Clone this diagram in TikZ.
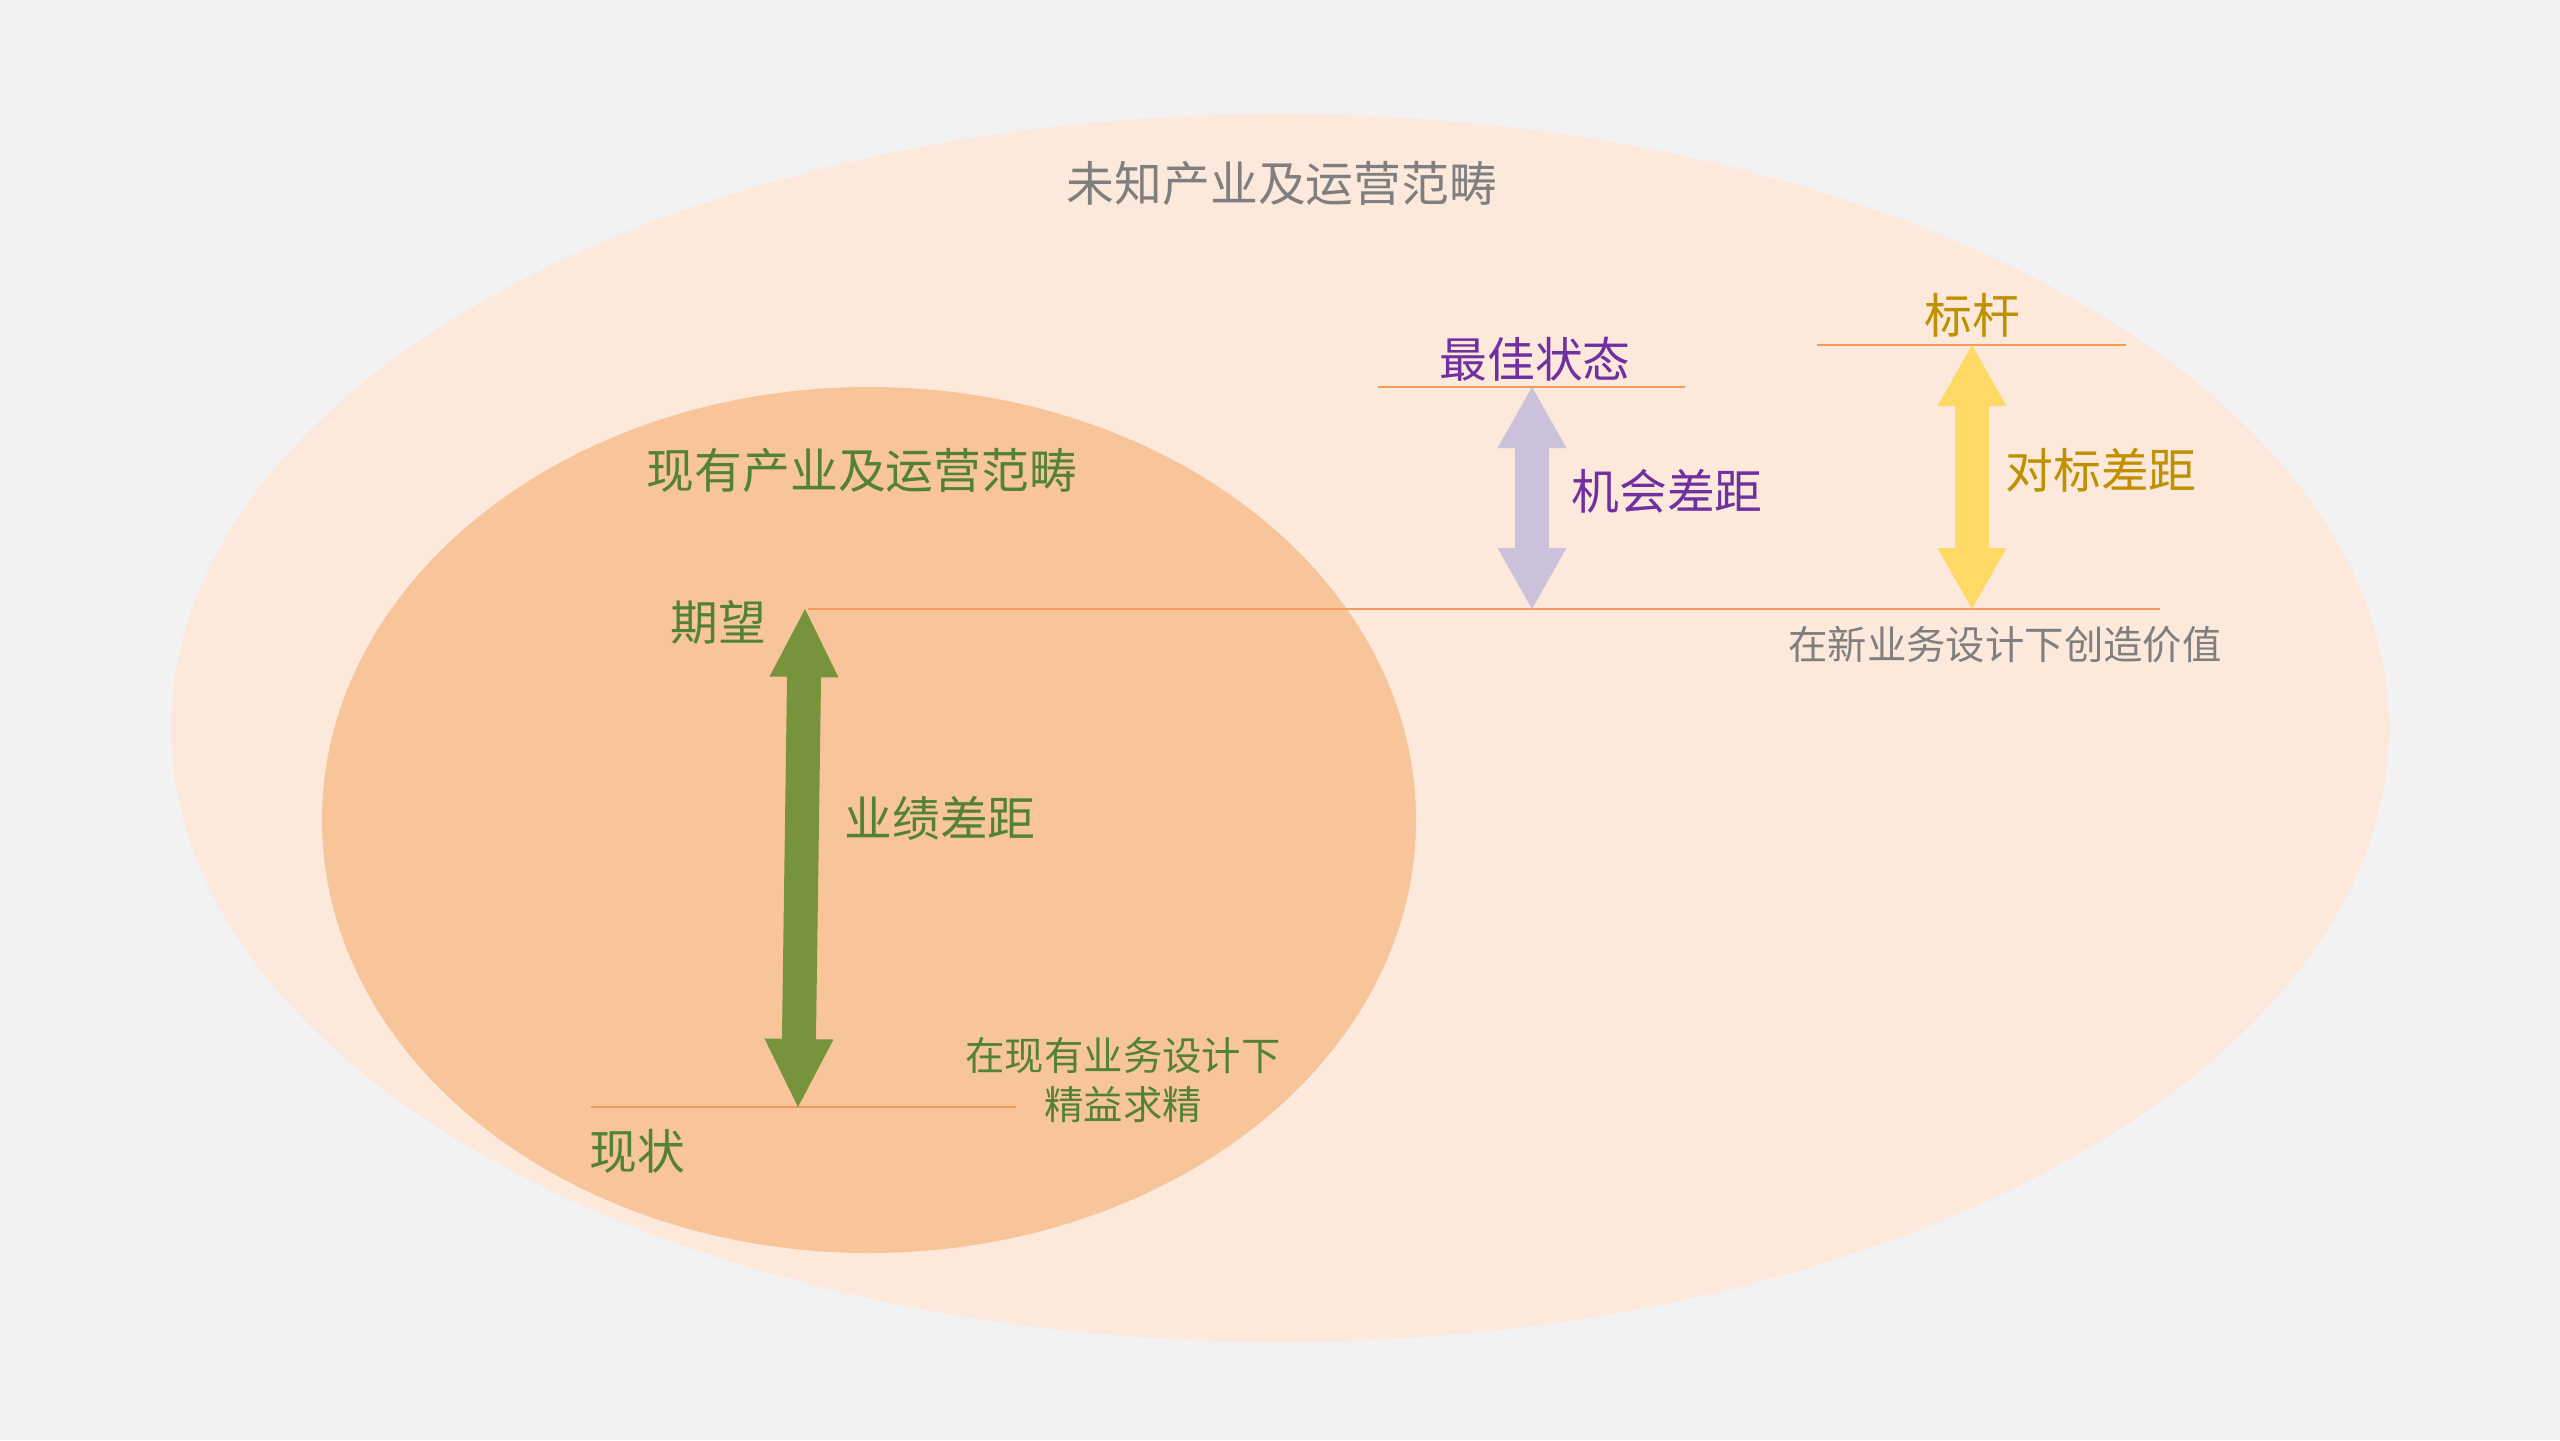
\documentclass[tikz,border=0pt]{standalone}
\usepackage{fontspec}
\setmainfont{Noto Sans CJK SC}
\usetikzlibrary{arrows.meta,positioning}

\definecolor{bggray}{HTML}{F2F2F2}
\definecolor{outerfill}{HTML}{FCE9DB}
\definecolor{innerfill}{HTML}{F8C59B}
\definecolor{lineorange}{HTML}{F19A5A}
\definecolor{textgray}{HTML}{7F7F7F}
\definecolor{textgreen}{HTML}{548235}
\definecolor{arrowgreen}{HTML}{77933C}
\definecolor{textpurple}{HTML}{7030A0}
\definecolor{arrowpurple}{HTML}{CCC1DA}
\definecolor{textgold}{HTML}{BF9000}
\definecolor{arrowyellow}{HTML}{FFD966}

\tikzset{
  big/.style={font=\fontsize{13.6pt}{16pt}\selectfont},
  small/.style={font=\fontsize{11.2pt}{14pt}\selectfont},
  level/.style={draw=lineorange, line width=0.7pt},
  greenhead/.style={{Triangle[length=6.8mm,width=6.9mm,line width=0pt]}-{Triangle[length=6.8mm,width=6.9mm,line width=0pt]}},
  gaphead/.style={{Triangle[length=6.1mm,width=6.9mm,line width=0pt]}-{Triangle[length=6.1mm,width=6.9mm,line width=0pt]}},
}

\begin{document}
\begin{tikzpicture}
\useasboundingbox (0,0) rectangle (25.6,-14.4);
\fill[bggray] (0,0) rectangle (25.6,-14.4);

% the two fields
\fill[outerfill] (12.80,-7.28) ellipse [x radius=11.09, y radius=6.14];
\fill[innerfill] (8.69,-8.20) ellipse [x radius=5.47, y radius=4.33];

\node (unknown) [big,text=textgray] at (12.82,-1.83) {未知产业及运营范畴};
\node (current) [big,text=textgreen] at (8.62,-4.70) {现有产业及运营范畴};

% levels
\coordinate (hopeL) at (8.08,-6.09);
\coordinate (hopeR) at (21.60,-6.09);
\coordinate (nowL) at (5.91,-11.07);
\coordinate (nowR) at (10.16,-11.07);
\coordinate (bestL) at (13.78,-3.87);
\coordinate (bestR) at (16.85,-3.87);
\coordinate (benchL) at (18.17,-3.45);
\coordinate (benchR) at (21.26,-3.45);

\coordinate (hopetip) at (8.05,-6.09);
\coordinate (nowtip) at (7.98,-11.07);
\coordinate (besttop) at (15.32,-3.87);
\coordinate (bestbot) at (15.32,-6.09);
\coordinate (benchtop) at (19.72,-3.45);
\coordinate (benchbot) at (19.72,-6.09);

\node (hope) [big,text=textgreen] at (7.18,-6.22) {期望};
\node (now) [big,text=textgreen] at (6.37,-11.51) {现状};
\node (perf) [big,text=textgreen] at (9.40,-8.18) {业绩差距};
\node (lean) [small,text=textgreen,align=center] at (11.23,-10.80) {在现有业务设计下\\精益求精};

\node (best) [big,text=textpurple] at (15.35,-3.59) {最佳状态};
\node (chance) [big,text=textpurple] at (16.67,-4.91) {机会差距};
\node (bench) [big,text=textgold] at (19.72,-3.15) {标杆};
\node (benchgap) [big,text=textgold] at (21.01,-4.70) {对标差距};
\node (newvalue) [small,text=textgray] at (20.05,-6.45) {在新业务设计下创造价值};

\draw[level] (hopeL) -- (hopeR);
\draw[level] (nowL) -- (nowR);
\draw[level] (bestL) -- (bestR);
\draw[level] (benchL) -- (benchR);

\draw[greenhead,draw=arrowgreen,line width=3.4mm] (hopetip) -- (nowtip);
\draw[gaphead,draw=arrowpurple,line width=3.4mm] (besttop) -- (bestbot);
\draw[gaphead,draw=arrowyellow,line width=3.4mm] (benchtop) -- (benchbot);
\end{tikzpicture}
\end{document}
